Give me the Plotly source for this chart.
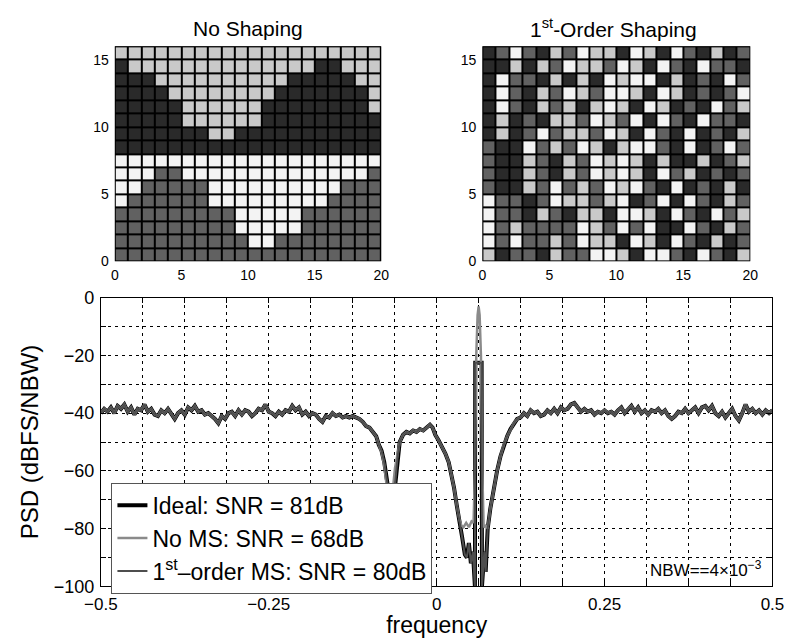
import numpy as np
import plotly.graph_objects as go

# ---------------- data ----------------
# Element-selection grids (top row first). W=white, L=light, M=mid, D=dark
no_shaping_rows = [
    "LLLLLLLLLLLLLLLLLLLL",
    "DLLLLLLLLLLLLLLDDLLL",
    "DDDLLLLLLLLLLDDDDDLL",
    "DDDDLLLLLLLLDDDDDDDL",
    "DDDDDLLLLLLDDDDDDDDL",
    "DDDDDLLLLLLDDDDDDDDD",
    "DDDDDDDLLDDDDDDDDDDD",
    "DDDDDDDDDDDDDDDDDDDD",
    "WWWWWWWWWWWWWWWWWWWW",
    "WWWMMWWWWWWWWWWWWWWM",
    "WWMMMMMWWWWWWWWWWMMM",
    "WMMMMMMWWWWWWWWWMMMM",
    "MMMMMMMMMWWWWWMMMMMM",
    "MMMMMMMMMWWWWWMMMMMM",
    "MMMMMMMMMMWWMMMMMMMM",
    "MMMMMMMMMMMMMMMMMMMM",
]
first_order_rows = [
    "DMWMDLMWLLDWLDWMDLDM",
    "DDLDLMWLLMWLDWMDWMMD",
    "DWMMDLDLDWLWWDLDMDWM",
    "DWMDLMWLMWWLDWLDMDMW",
    "DWMDLMLDLWLDWLDMDWML",
    "DLDMDLLMWLMWDWMDWMMD",
    "DLDMWMLLMWLDWMDWDMDL",
    "MDDWMLMWLDLWWMDWDMWM",
    "MDDLMDLMWLWLDLDDLDML",
    "MDDLMDLMWLWLDWMLDMDM",
    "MDDLMWMLMWLWMDWDMDLD",
    "WMMDMWLLMLWDMWDWMDLM",
    "WMMDLMDLLDWWLDWMDWML",
    "WMLMMMMWLMWMWDDWMDLM",
    "WMWMMLMWLLDWLDWMDLDM",
    "LDMMDLMMWWLDWWMDWMDL",
]
level_of = {"W": 0, "L": 1, "M": 2, "D": 3}
level_colors = ["#f3f3f3", "#c9c9c9", "#616161", "#2a2a2a"]

# PSD: noise floor left of the notch (f = -0.5 ... -0.115, step 0.005)
psd_left = [
    -40, -38.5, -39.5, -38, -40, -37.5, -38.5, -37, -39.5, -38,
    -40.5, -38.5, -39, -37, -39.5, -38.5, -40.5, -41, -39, -40,
    -38.5, -40.5, -42, -40, -39, -40.5, -38, -39, -37.5, -39.5,
    -39, -40.5, -40, -41, -42, -43.5, -41, -42, -40, -39.5,
    -41, -39, -40.5, -39, -39.5, -41, -40, -38.5, -39, -37,
    -39.5, -40, -41, -39.5, -40.5, -39, -39.5, -37.5, -39, -38,
    -40.5, -39.5, -41, -40, -40.5, -42, -43, -41, -41.5, -40,
    -41, -40.5, -41.5, -41, -41.5, -41, -41.5, -42,
]
f_left = np.round(np.linspace(-0.5, -0.115, len(psd_left)), 4)

# PSD: noise floor right of the notch (f = 0.12 ... 0.5, step 0.005)
psd_right = [
    -42, -41.5, -40, -41, -39, -40, -39.5, -41, -40.5, -39,
    -40, -38.5, -40, -38, -39, -38.5, -37, -36.5, -38, -39.5,
    -38.5, -39.5, -39, -40.5, -39.5, -40, -39, -40, -39.5, -40.5,
    -39, -38, -40, -38.5, -37.5, -39.5, -38, -40, -39, -40.5,
    -39, -39.5, -38.5, -40, -39, -41, -42, -41, -39.5, -40,
    -38.5, -40, -39, -38, -40, -38, -37.5, -39, -37.5, -40,
    -41, -39.5, -41.5, -40, -38.5, -41, -42.5, -40, -37, -39.5,
    -38.5, -40, -39, -40.5, -39, -40, -39,
]
f_right = np.round(np.linspace(0.12, 0.5, len(psd_right)), 4)

# Centre region: ideal and 1st-order mismatch shaping
f_mid = [-0.110, -0.105, -0.100, -0.095, -0.090, -0.086, -0.082, -0.078, -0.074, -0.070,
         -0.067, -0.064, -0.061, -0.058, -0.055, -0.050, -0.045, -0.040, -0.035, -0.030,
         -0.025, -0.020, -0.015, -0.010, -0.006, -0.002, 0.003, 0.008, 0.013, 0.018,
         0.022, 0.026, 0.030, 0.034, 0.038, 0.042, 0.045, 0.048, 0.051, 0.054,
         0.057, 0.0575, 0.067, 0.0675, 0.071, 0.073, 0.076, 0.080, 0.085, 0.090,
         0.095, 0.100, 0.105, 0.110, 0.115]
psd_mid_ms = [-43, -44.5, -45, -46.5, -48, -51, -53, -57, -63, -70,
              -74, -70, -62, -55, -50, -47.5, -46.5, -47, -46, -46.5,
              -45.5, -46, -45, -44, -45, -47.5, -49.5, -51.5, -54, -57,
              -61, -66, -72, -77, -83, -89, -90, -85, -92, -88,
              -100, -22.5, -22.5, -100, -88, -95, -80, -73, -66, -60,
              -55, -51, -48, -45.5, -43.5]

# Centre region: no mismatch shaping
f_mid_noms = [-0.110, -0.105, -0.100, -0.095, -0.090, -0.086, -0.082, -0.078, -0.074, -0.071,
              -0.068, -0.065, -0.062, -0.058, -0.055, -0.050, -0.045, -0.040, -0.035, -0.030,
              -0.025, -0.020, -0.015, -0.010, -0.006, -0.002, 0.003, 0.008, 0.013, 0.018,
              0.022, 0.026, 0.030, 0.034, 0.037, 0.040, 0.044, 0.048, 0.052, 0.055,
              0.057, 0.059, 0.061, 0.0625, 0.064, 0.066, 0.068, 0.070, 0.073, 0.076,
              0.080, 0.085, 0.090, 0.095, 0.100, 0.105, 0.110, 0.115]
psd_mid_noms = [-43, -44.5, -45, -46.5, -48, -51, -53.5, -58, -65, -72,
                -73, -66, -59, -54, -50, -47.5, -46.5, -47, -46, -46.5,
                -45.5, -46, -45, -44, -45, -47.5, -49.5, -51.5, -54, -57,
                -61, -66, -72, -77, -79, -79.5, -78, -79.5, -77.5, -78,
                -60, -20, -6, -3, -6, -20, -60, -79.5, -79, -80,
                -73, -66, -60, -55, -51, -48, -45.5, -43.5]

series_names = ["Ideal: SNR = 81dB", "No MS: SNR = 68dB", "1<sup>st</sup>\u2013order MS: SNR = 80dB"]

x_ticks_psd = [-0.5 + i / 16 for i in range(17)]
x_labels_psd = {0: "\u22120.5", 4: "\u22120.25", 8: "0", 12: "0.25", 16: "0.5"}
y_ticks_psd = list(range(-100, 1, 10))
y_labels_psd = {-100: "\u2212100", -80: "\u221280", -60: "\u221260", -40: "\u221240", -20: "\u221220", 0: "0"}

# ---------------- figure ----------------
W, H = 796, 638
FONT = "Liberation Sans, Arial, Helvetica, sans-serif"


def px_x(a, b):
    return [a / W, b / W]


def px_y(top, bottom):
    return [1 - bottom / H, 1 - top / H]


def grid(rows):
    return [[level_of[c] for c in r] for r in reversed(rows)]


cs = []
for i, c in enumerate(level_colors):
    cs.append([i / 4, c])
    cs.append([(i + 1) / 4, c])

cell_x = [i + 0.5 for i in range(20)]
cell_y = [j + 0.5 for j in range(16)]

fig = go.Figure()
for rows, xa, ya in [(no_shaping_rows, "x", "y"), (first_order_rows, "x2", "y2")]:
    fig.add_trace(go.Heatmap(z=grid(rows), x=cell_x, y=cell_y, zmin=-0.5, zmax=3.5,
                             colorscale=cs, showscale=False, xgap=2, ygap=2,
                             xaxis=xa, yaxis=ya, hoverinfo="skip", showlegend=False))

ideal_x = list(f_left) + f_mid + list(f_right)
ideal_y = psd_left + psd_mid_ms + psd_right
noms_x = list(f_left) + f_mid_noms + list(f_right)
noms_y = psd_left + psd_mid_noms + psd_right

fig.add_trace(go.Scatter(x=ideal_x, y=ideal_y, mode="lines", name=series_names[0],
                         line=dict(color="#000000", width=4), xaxis="x3", yaxis="y3"))
fig.add_trace(go.Scatter(x=noms_x, y=noms_y, mode="lines", name=series_names[1],
                         line=dict(color="#8a8a8a", width=2.5), xaxis="x3", yaxis="y3"))
fig.add_trace(go.Scatter(x=ideal_x, y=ideal_y, mode="lines", name=series_names[2],
                         line=dict(color="#4e4e4e", width=2), xaxis="x3", yaxis="y3"))

hm_x = dict(showgrid=False, zeroline=False, showline=False, ticks="",
            tickfont=dict(size=14, family=FONT, color="black"), fixedrange=True,
            ticklabelstandoff=4)
hm_y = dict(showgrid=False, zeroline=False, showline=False, ticks="",
            tickfont=dict(size=14, family=FONT, color="black"), fixedrange=True,
            ticklabelstandoff=5)

fig.update_layout(
    width=W, height=H,
    margin=dict(l=0, r=0, t=0, b=0),
    paper_bgcolor="white", plot_bgcolor="white",
    font=dict(family=FONT, color="black"),
    xaxis=dict(domain=px_x(101.5, 378), range=[0, 20], anchor="y",
               tickvals=[0, 5, 10, 15, 20], **hm_x),
    yaxis=dict(domain=px_y(37.5, 259.5), range=[0, 16], anchor="x",
               tickvals=[0, 5, 10, 15], **hm_y),
    xaxis2=dict(domain=px_x(483, 761), range=[0, 20], anchor="y2",
                tickvals=[0, 5, 10, 15, 20], **hm_x),
    yaxis2=dict(domain=px_y(37.5, 259.5), range=[0, 16], anchor="x2",
                tickvals=[0, 5, 10, 15], **hm_y),
    xaxis3=dict(domain=px_x(87, 784), range=[-0.5, 0.5], anchor="y3",
                tickmode="array", tickvals=x_ticks_psd,
                ticktext=[x_labels_psd.get(i, "") for i in range(17)],
                ticks="inside", ticklen=5, tickcolor="black", mirror="allticks",
                showline=True, linecolor="black", linewidth=1,
                showgrid=True, gridcolor="black", gridwidth=1, griddash="3px,4px",
                zeroline=False, tickfont=dict(size=17), ticklabelstandoff=2,
                title=dict(text="frequency", font=dict(size=23), standoff=3)),
    yaxis3=dict(domain=px_y(297, 595), range=[-100, 0], anchor="x3",
                tickmode="array", tickvals=y_ticks_psd,
                ticktext=[y_labels_psd.get(v, "") for v in y_ticks_psd],
                ticks="inside", ticklen=5, tickcolor="black", mirror="allticks",
                showline=True, linecolor="black", linewidth=1,
                showgrid=True, gridcolor="black", gridwidth=1, griddash="3px,4px",
                zeroline=False, tickfont=dict(size=18), ticklabelstandoff=2,
                title=dict(text="PSD (dBFS/NBW)", font=dict(size=24), standoff=8)),
    legend=dict(x=98 / W, y=1 - 488 / H, xanchor="left", yanchor="top",
                bgcolor="white", bordercolor="#555555", borderwidth=1,
                font=dict(size=23, family=FONT, color="black"), tracegroupgap=0),
    shapes=[
        dict(type="rect", xref="x", yref="y", x0=0, x1=20, y0=0, y1=16,
             fillcolor="black", line=dict(color="black", width=2), layer="below"),
        dict(type="rect", xref="x2", yref="y2", x0=0, x1=20, y0=0, y1=16,
             fillcolor="black", line=dict(color="black", width=2), layer="below"),
    ],
    annotations=[
        dict(text="No Shaping", xref="paper", yref="paper", x=240 / W, y=1 - 19 / H,
             showarrow=False, font=dict(size=21), xanchor="center", yanchor="middle"),
        dict(text="1<sup>st</sup>-Order Shaping", xref="paper", yref="paper", x=619 / W,
             y=1 - 19 / H, showarrow=False, font=dict(size=21), xanchor="center",
             yanchor="middle"),
        dict(text="NBW==4\u00d710<sup>\u22123</sup>", xref="paper", yref="paper",
             x=775 / W, y=1 - 591 / H, showarrow=False, font=dict(size=17),
             xanchor="right", yanchor="bottom"),
    ],
)

fig.write_html("out.html", config={"displayModeBar": False})
